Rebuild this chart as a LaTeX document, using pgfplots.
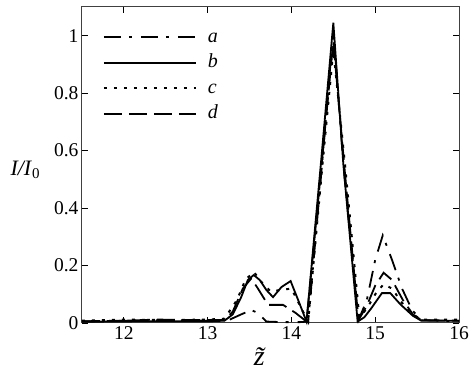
\documentclass[border=0pt]{standalone}
\usepackage{pgfplots}
\pgfplotsset{compat=1.18}
\usepackage{fontspec}
\setmainfont{Liberation Serif}
\begin{document}
\begin{tikzpicture}
\begin{axis}[
  width=377pt, height=316pt, scale only axis,
  xmin=11.5, xmax=16, ymin=0, ymax=1.1,
  xtick={12,13,14,15,16},
  ytick={0,0.2,0.4,0.6,0.8,1},
  yticklabels={0,0.2,0.4,0.6,0.8,1},
  /pgf/number format/assume math mode=true,
  ticklabel style={font=\fontsize{19.5}{22}\selectfont},
  axis line style={black!75, line width=1pt},
  tick style={black, line width=0.8pt},
  major tick length=6pt,
  tick align=inside,
  clip=false,
  xlabel={\fontsize{28}{30}\selectfont\textit{\~z}},
  xlabel style={at={(rel axis cs:0.485,-0.105)}, anchor=center},
  ylabel={\fontsize{22}{26}\selectfont\textit{I/I}\raisebox{-0.3ex}{\fontsize{15}{18}\selectfont 0}},
  ylabel style={rotate=-90, at={(rel axis cs:-0.151,0.484)}, anchor=center},
  legend style={draw=none, fill=none, inner sep=0pt, at={(rel axis cs:0.055,0.94)}, anchor=north west,
    font=\fontsize{20}{24}\selectfont\itshape,
    nodes={inner sep=2pt, text height=14pt, text depth=4pt}, row sep=3.6pt},
  legend cell align=left,
  legend image code/.code={\draw[#1] (0pt,0pt) -- (92pt,0pt); \path (101pt,0pt);},
]
\addplot[black, line width=1.8pt, dash pattern=on 17pt off 8pt on 3pt off 9pt] coordinates {
(11.5,0.006) (12.0,0.008) (12.5,0.01) (13.0,0.008) (13.25,0.01) (13.4,0.03) (13.52,0.045) (13.6,0.035) (13.7,0.005) (13.9,0.003) (14.1,0.003) (14.2,0.005) (14.35,0.5) (14.5,1.02) (14.62,0.55) (14.8,0.01) (14.9,0.08) (15.0,0.22) (15.09,0.305) (15.2,0.22) (15.32,0.12) (15.44,0.045) (15.55,0.01) (16,0.006)};
\addlegendentry{a}
\addplot[black, line width=1.8pt] coordinates {
(11.5,0.004) (11.8,0.005) (12.2,0.006) (12.6,0.006) (13.0,0.006) (13.2,0.008) (13.3,0.03) (13.4,0.09) (13.48,0.15) (13.55,0.167) (13.62,0.15) (13.7,0.115) (13.78,0.09) (13.88,0.125) (13.99,0.146) (14.08,0.08) (14.18,0.005) (14.35,0.55) (14.5,1.045) (14.62,0.55) (14.79,0.005) (14.87,0.02) (14.95,0.05) (15.08,0.104) (15.18,0.104) (15.3,0.065) (15.45,0.025) (15.55,0.008) (16,0.008)};
\addlegendentry{b}
\addplot[black, line width=2pt, dash pattern=on 3pt off 7pt] coordinates {
(11.5,0.008) (12,0.012) (12.5,0.01) (13,0.012) (13.2,0.015) (13.35,0.08) (13.45,0.15) (13.55,0.178) (13.65,0.14) (13.75,0.11) (13.88,0.115) (14.0,0.12) (14.12,0.05) (14.2,0.005) (14.37,0.55) (14.5,0.95) (14.64,0.55) (14.81,0.02) (14.9,0.05) (15.0,0.1) (15.1,0.135) (15.2,0.12) (15.32,0.07) (15.45,0.03) (15.55,0.012) (16,0.012)};
\addlegendentry{c}
\addplot[black, line width=1.8pt, dash pattern=on 18pt off 7pt] coordinates {
(11.5,0.006) (12,0.008) (12.4,0.012) (12.8,0.01) (13.2,0.01) (13.3,0.04) (13.42,0.12) (13.52,0.155) (13.6,0.12) (13.72,0.063) (13.9,0.063) (14.05,0.035) (14.18,0.005) (14.36,0.55) (14.5,0.98) (14.63,0.55) (14.8,0.01) (14.9,0.06) (15.0,0.13) (15.1,0.175) (15.2,0.15) (15.33,0.08) (15.45,0.03) (15.55,0.01) (16,0.008)};
\addlegendentry{d}
\path (rel axis cs:0,0) ++(-82pt,-56pt);
\path (rel axis cs:1,1) ++(14pt,7pt);
\end{axis}
\end{tikzpicture}
\end{document}
